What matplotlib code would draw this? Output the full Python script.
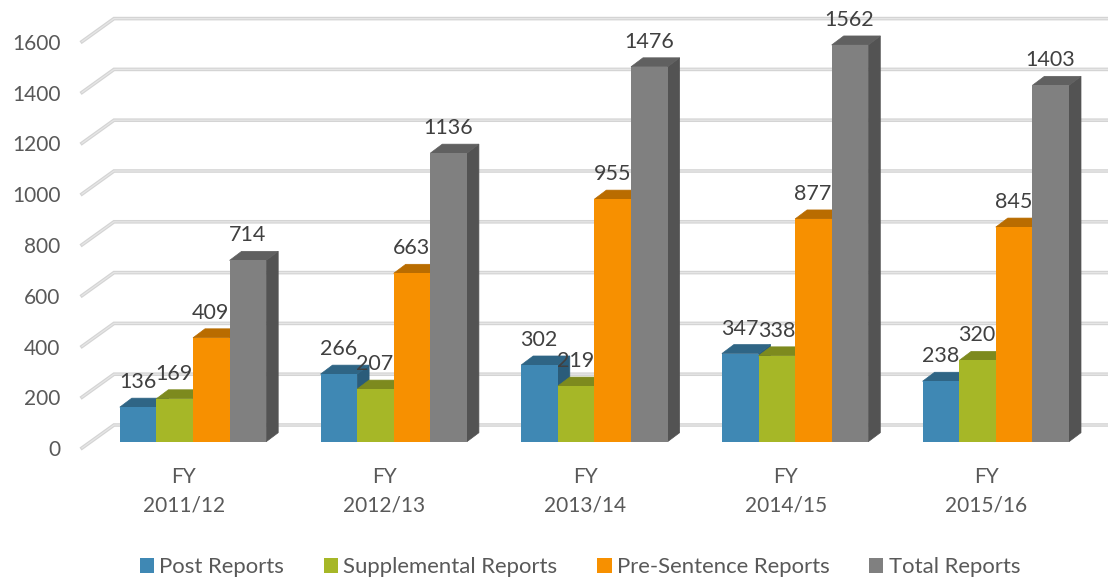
import numpy as np
import matplotlib.pyplot as plt
from matplotlib.patches import Polygon, Patch
from matplotlib.transforms import ScaledTranslation

plt.rcParams['font.family'] = ['Lato', 'DejaVu Sans']

years = ['FY\n2011/12', 'FY\n2012/13', 'FY\n2013/14', 'FY\n2014/15', 'FY\n2015/16']
post = [136, 266, 302, 347, 238]
supp = [169, 207, 219, 338, 320]
pre = [409, 663, 955, 877, 845]
total = [714, 1136, 1476, 1562, 1403]
names = ['Post Reports', 'Supplemental Reports', 'Pre-Sentence Reports', 'Total Reports']
y_ticks = [0, 200, 400, 600, 800, 1000, 1200, 1400, 1600]

series = [post, supp, pre, total]
front = ['#3F88B4', '#A6B727', '#F79000', '#808080']
top = ['#2F6585', '#7D8A1E', '#B96C00', '#606060']
side = ['#2A5C7A', '#6E7A1A', '#A35F00', '#535353']

W, H = 1108, 579
px_x = 200.7      # pixels per category
px_y = 0.254      # pixels per report
base_px = 441.7
left_px = 82

fig = plt.figure(figsize=(W / 100, H / 100), dpi=100)
ax = fig.add_axes([left_px / W, 1 - base_px / H, (W - left_px) / W, base_px / H])
ax.set_xlim((left_px - 193) / px_x, (W - 193) / px_x)
ax.set_ylim(0, base_px / px_y)

dx = 12 / px_x    # bar depth
dy = 9 / px_y
bw = 36.6 / px_x

# walls / gridlines
for v in y_ticks:
    xf, xb, xr = ax.get_xlim()[0], (114 - 193) / px_x, ax.get_xlim()[1]
    yf, yb = v - 6.3 / px_y, v + 16.7 / px_y
    ax.plot([xf, xb, xr], [yf, yb, yb], color='#d4d4d4', lw=2.6, clip_on=False, zorder=1,
            solid_joinstyle='miter')
    ax.plot([xf, xb, xr], [yf, yb, yb], color='#e6e6e6', lw=0.9, clip_on=False, zorder=1.1,
            solid_joinstyle='miter')

z = 2
for i in range(len(years)):
    for j, vals in enumerate(series):
        x0 = i + (j - 2) * bw
        v = vals[i]
        ax.add_patch(Polygon([[x0 + bw, 0], [x0 + bw + dx, dy], [x0 + bw + dx, v + dy], [x0 + bw, v]],
                             fc=side[j], ec=side[j], lw=0.5, zorder=z))
        ax.add_patch(Polygon([[x0, v], [x0 + dx, v + dy], [x0 + bw + dx, v + dy], [x0 + bw, v]],
                             fc=top[j], ec=top[j], lw=0.5, zorder=z))
        ax.bar(x0, v, bw, align='edge', color=front[j], edgecolor='none', zorder=z + 0.5)
        z += 1

for i in range(len(years)):
    for j, vals in enumerate(series):
        x0 = i + (j - 2) * bw + bw / 2
        ax.annotate(str(vals[i]), (x0, vals[i]), xytext=(-0.5 * 0.72, 25 * 0.72), textcoords='offset points',
                    ha='center', va='center', fontsize=15.5, color='#404040', zorder=100)

for s in ax.spines.values():
    s.set_visible(False)
ax.patch.set_visible(False)
ax.set_xticks(range(len(years)), years)
ax.set_yticks(y_ticks)
ax.tick_params(length=0)
ax.tick_params(axis='x', pad=18, labelsize=15, labelcolor='#595959')
ax.tick_params(axis='y', pad=15.5, labelsize=15, labelcolor='#595959')
for lab in ax.get_xticklabels():
    lab.set_linespacing(1.54)
    lab.set_transform(lab.get_transform() + ScaledTranslation(-9.3 / 100, 0, fig.dpi_scale_trans))
for lab in ax.get_yticklabels():
    lab.set_transform(lab.get_transform() + ScaledTranslation(0, -6.5 / 100, fig.dpi_scale_trans))

handles = [Patch(fc=c, ec='none') for c in front]
fig.legend(handles, names, loc='lower left', bbox_to_anchor=(140 / W, 2 / H), ncol=4, frameon=False,
           fontsize=15.9, labelcolor='#595959', handlelength=0.64, handleheight=0.64,
           handletextpad=0.24, columnspacing=1.8, borderpad=0, borderaxespad=0)

fig.savefig('out.png', dpi=100)
